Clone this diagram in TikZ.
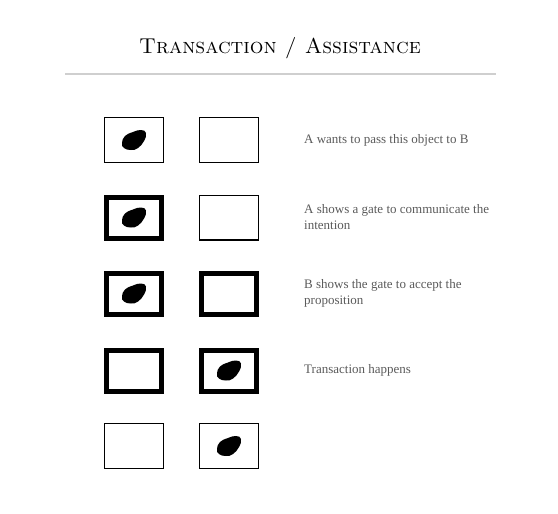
\documentclass[tikz,border=0pt]{standalone}
\usepackage{fontspec}
\usepackage{tikz}
\usetikzlibrary{positioning}
\newfontfamily\labelfont{Liberation Serif}
\definecolor{tgray}{HTML}{5A5A5A}
\definecolor{rulegray}{HTML}{CFCFCF}
\newcommand{\blobat}[1]{%
  \fill[shift={(#1)}] plot[smooth cycle, tension=0.8] coordinates
    {(-12,3) (-9,-4) (-1,-8) (7,-10) (12,-7) (10,1) (4,8) (-3,10) (-10,8)};}

\begin{document}
\begin{tikzpicture}[x=1pt, y=-1pt,
  thinbox/.style={draw, line width=1.2pt, minimum width=58.8pt, minimum height=44.8pt, inner sep=0pt},
  thickbox/.style={draw, line width=5pt, minimum width=55pt, minimum height=41pt, inner sep=0pt},
  steptext/.style={anchor=west, align=left, inner sep=0pt, text=tgray, font=\labelfont\fontsize{13}{16}\selectfont}]
\useasboundingbox (0,0) rectangle (558,514);
% title
\node[font=\fontsize{21.5}{24}\selectfont] (title) at (280,48) {\textsc{Transaction / Assistance}};
\draw[rulegray, line width=1.5pt] (65,74) -- (496,74);
% row 1
\node[thinbox] (a1) at (134,140) {};
\node[thinbox] (b1) at (229,140) {};
\blobat{a1.center}
\node[steptext] (t1) at (304,140) {A wants to pass this object to B};
% row 2
\node[thickbox] (a2) at (134,217.5) {};
\node[thinbox] (b2) at (229,217.5) {};
\blobat{a2.center}
\node[steptext] (t2) at (304,217.5) {A shows a gate to communicate the\\intention};
% row 3
\node[thickbox] (a3) at (134,293.5) {};
\node[thickbox] (b3) at (229,293.5) {};
\blobat{a3.center}
\node[steptext] (t3) at (304,293.5) {B shows the gate to accept the\\proposition};
% row 4
\node[thickbox] (a4) at (134,370.5) {};
\node[thickbox] (b4) at (229,370.5) {};
\blobat{b4.center}
\node[steptext] (t4) at (304,370.5) {Transaction happens};
% row 5
\node[thinbox] (a5) at (134,446) {};
\node[thinbox] (b5) at (229,446) {};
\blobat{b5.center}
\end{tikzpicture}
\end{document}
